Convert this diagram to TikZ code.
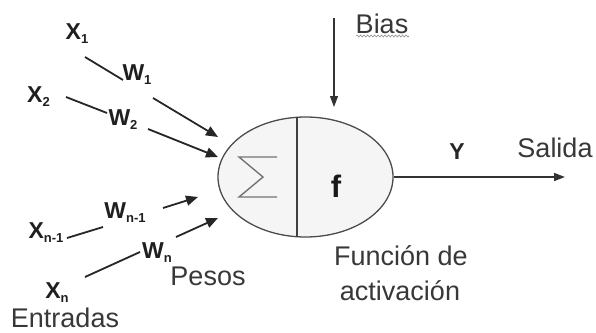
\documentclass[tikz,border=0pt]{standalone}
\usepackage{fontspec}
\setmainfont{Liberation Sans}
\usetikzlibrary{arrows.meta,shapes.geometric,decorations.pathmorphing,calc}
\newcommand\sbs[1]{\raisebox{-4pt}{\fontsize{13}{14}\selectfont #1}}
\begin{document}
\begin{tikzpicture}[x=1pt,y=-1pt,
  lbl/.style={font=\fontsize{23}{25}\selectfont\bfseries, text=black!88, inner sep=0, anchor=base},
  txt/.style={font=\fontsize{27}{30}\selectfont, text=black!78, inner sep=0, anchor=base},
  wire/.style={line width=1.8pt, draw=black!85},
  arr/.style={wire, -{Triangle[length=12pt,width=10pt]}},
  thinarr/.style={line width=1.2pt, draw=black!80, -{Triangle[length=11pt,width=8pt]}}]
\useasboundingbox (0,0) rectangle (596,332);
\fill[white] (0,0) rectangle (596,332);

% neuron
\node[ellipse, draw=black!70, line width=1.3pt, fill=black!4, minimum width=175pt, minimum height=120pt, inner sep=0] (neuron) at (305.5,177) {};
\coordinate (divt) at (297,117.3);
\coordinate (divb) at (297,236.7);
\draw[line width=1.3pt, black!75] (divt) -- (divb);
\coordinate (s1) at (277,157);
\coordinate (s2) at (239,157);
\coordinate (s3) at (263,177);
\coordinate (s4) at (239,197);
\coordinate (s5) at (277,197);
\draw[line width=1.4pt, black!55] (s1) -- (s2) -- (s3) -- (s4) -- (s5);
\node[font=\fontsize{31}{33}\selectfont\bfseries, text=black!90, inner sep=0, anchor=base] (f) at (336,197) {f};

% inputs
\node[lbl] (x1) at (77,39) {X\sbs{1}};
\node[lbl] (w1) at (137,80) {W\sbs{1}};
\node[lbl] (x2) at (38.5,102) {X\sbs{2}};
\node[lbl] (w2) at (123,125) {W\sbs{2}};
\node[lbl] (xn1) at (46,238) {X\sbs{n-1}};
\node[lbl] (wn1) at (125,218) {W\sbs{n-1}};
\node[lbl] (wn) at (157,258) {W\sbs{n}};
\node[lbl] (xn) at (57,298) {X\sbs{n}};

\coordinate (l1a) at (85,57);  \coordinate (l1b) at (123,80);
\coordinate (a1a) at (153,98); \coordinate (a1b) at (218,137);
\coordinate (l2a) at (66,97);  \coordinate (l2b) at (107,113);
\coordinate (a2a) at (148,129); \coordinate (a2b) at (218,157);
\coordinate (l3a) at (67,238); \coordinate (l3b) at (103,227);
\coordinate (a3a) at (163,208); \coordinate (a3b) at (198,197);
\coordinate (l4a) at (85,277); \coordinate (l4b) at (140,252);
\coordinate (a4a) at (176,237); \coordinate (a4b) at (218,218);

\draw[wire] (l1a) -- (l1b);
\draw[arr] (a1a) -- (a1b);
\draw[wire] (l2a) -- (l2b);
\draw[arr] (a2a) -- (a2b);
\draw[wire] (l3a) -- (l3b);
\draw[arr] (a3a) -- (a3b);
\draw[wire] (l4a) -- (l4b);
\draw[arr] (a4a) -- (a4b);

% bias
\node[txt] (bias) at (382,33) {Bias};
\coordinate (bsq1) at (356,36);
\coordinate (bsq2) at (409,36);
\draw[black!45, line width=0.6pt, decorate, decoration={snake, amplitude=1pt, segment length=3.5pt}] (bsq1) -- (bsq2);
\coordinate (bt) at (334,18);
\coordinate (bb) at (334,107);
\draw[thinarr] (bt) -- (bb);

% output
\coordinate (out) at (565,177);
\draw[thinarr, line width=1.6pt] (neuron.east) -- (out);
\node[font=\fontsize{23}{25}\selectfont\bfseries, text=black!85, inner sep=0, anchor=base] (y) at (457,159) {Y};
\node[txt] (salida) at (555,157) {Salida};

% labels
\node[txt] (pesos) at (208,285) {Pesos};
\node[txt] (entradas) at (65,327) {Entradas};
\node[txt] (fa1) at (401,265) {Función de};
\node[txt] (fa2) at (400,300) {activación};
\end{tikzpicture}
\end{document}
